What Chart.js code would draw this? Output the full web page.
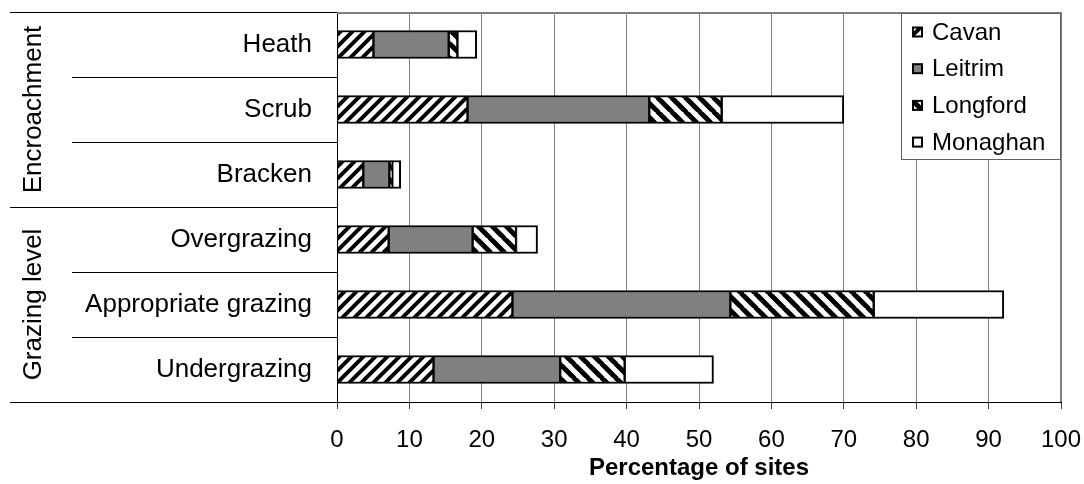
<!DOCTYPE html>
<html>
<head>
<meta charset="utf-8">
<script src="https://cdn.jsdelivr.net/npm/chart.js@4.4.1/dist/chart.umd.min.js"></script>
<style>
  html, body { margin: 0; padding: 0; background: #fff; }
  #wrap { width: 1084px; height: 484px; }
</style>
</head>
<body>
<div id="wrap"><canvas id="chart" width="1084" height="484"></canvas></div>
<script>
// Site-condition categories, listed top to bottom
const categories = ['Heath', 'Scrub', 'Bracken', 'Overgrazing', 'Appropriate grazing', 'Undergrazing'];
// Groups of categories shown as rotated labels on the far left
const groupNames = ['Encroachment', 'Grazing level'];
const groupSpans = [[0, 2], [3, 5]];

// Percentage of sites per county (stacked segments)
const cavan    = [5.1, 18.1, 3.7, 7.2, 24.3, 13.4];
const leitrim  = [10.4, 25.1, 3.6, 11.6, 30.1, 17.5];
const longford = [1.2, 10.0, 0.4, 6.0, 19.8, 8.9];
const monaghan = [2.6, 16.8, 1.1, 2.9, 17.9, 12.2];

const xTicks = [0, 10, 20, 30, 40, 50, 60, 70, 80, 90, 100];
const xTitle = 'Percentage of sites';

const FONT = "'Liberation Sans', Arial, sans-serif";

// Diagonal hatch fill; dir = 1 for "/" stripes, -1 for "\" stripes
function hatch(period, width, dir) {
  const c = document.createElement('canvas');
  c.width = period; c.height = period;
  const g = c.getContext('2d');
  g.fillStyle = '#fff';
  g.fillRect(0, 0, period, period);
  g.strokeStyle = '#000';
  g.lineWidth = width;
  g.beginPath();
  for (const k of [0, period, 2 * period]) {
    if (dir > 0) {
      g.moveTo(k + 1, -1); g.lineTo(k - period - 1, period + 1);
    } else {
      g.moveTo(k - period - 1, -1); g.lineTo(k + 1, period + 1);
    }
  }
  g.stroke();
  return g.createPattern(c, 'repeat');
}

const cavanFill = hatch(12, 4, 1);
const longfordFill = hatch(14, 5, -1);

const barStyle = {
  borderColor: '#000',
  borderWidth: { top: 2, bottom: 2, left: 1, right: 2 },
  borderSkipped: false,
  barThickness: 28
};

// Left-hand category separators, group labels, plot frame and legend
const framePlugin = {
  id: 'frame',
  afterDraw(chart) {
    const { ctx, chartArea: a, scales: { y } } = chart;
    const n = categories.length;
    const step = (y.getPixelForValue(n - 1) - y.getPixelForValue(0)) / (n - 1);
    const edge = i => Math.round(y.getPixelForValue(i) - step / 2) + 0.5;
    ctx.save();
    ctx.lineWidth = 1;
    ctx.strokeStyle = '#000';
    // separators between categories
    for (let i = 0; i <= n; i++) {
      const isGroupEdge = i === 0 || i === n || groupSpans.some(s => s[0] === i);
      const x0 = isGroupEdge ? 10 : 72;
      ctx.beginPath();
      ctx.moveTo(x0, edge(i));
      ctx.lineTo(a.left, edge(i));
      ctx.stroke();
    }
    // rotated group labels
    ctx.fillStyle = '#000';
    ctx.font = '26px ' + FONT;
    ctx.textAlign = 'center';
    ctx.textBaseline = 'middle';
    groupNames.forEach((name, gi) => {
      const [s, e] = groupSpans[gi];
      const cy = (y.getPixelForValue(s) + y.getPixelForValue(e)) / 2;
      ctx.save();
      ctx.translate(34, cy);
      ctx.rotate(-Math.PI / 2);
      ctx.fillText(name, 0, 0);
      ctx.restore();
    });
    // top and right frame of the plot
    ctx.strokeStyle = '#808080';
    ctx.lineWidth = 2;
    ctx.beginPath();
    ctx.moveTo(a.left, a.top + 1);
    ctx.lineTo(a.right, a.top + 1);
    ctx.lineTo(a.right, a.bottom);
    ctx.stroke();
    // bottom axis line extended under the category labels
    ctx.strokeStyle = '#000';
    ctx.lineWidth = 1;
    ctx.beginPath();
    ctx.moveTo(10, Math.round(a.bottom) + 0.5);
    ctx.lineTo(a.right, Math.round(a.bottom) + 0.5);
    ctx.stroke();

    // legend box
    const lx = 901.5, ly = 13.5, lw = 159, lh = 146;
    ctx.fillStyle = '#fff';
    ctx.fillRect(lx, ly, lw, lh);
    ctx.strokeStyle = '#606060';
    ctx.lineWidth = 1;
    ctx.strokeRect(lx, ly, lw, lh);
    ctx.font = '24px ' + FONT;
    ctx.textAlign = 'left';
    ctx.textBaseline = 'middle';
    chart.data.datasets.forEach((ds, i) => {
      const cy = 32 + i * 36.7;
      ctx.fillStyle = ds.backgroundColor;
      ctx.fillRect(913, cy - 4.5, 9, 9);
      ctx.strokeStyle = '#000';
      ctx.lineWidth = 2;
      ctx.strokeRect(913, cy - 4.5, 9, 9);
      ctx.fillStyle = '#000';
      ctx.fillText(ds.label, 932, cy + 1);
    });
    ctx.restore();
  }
};

new Chart(document.getElementById('chart'), {
  type: 'bar',
  data: {
    labels: categories,
    datasets: [
      { label: 'Cavan', data: cavan, backgroundColor: cavanFill, ...barStyle },
      { label: 'Leitrim', data: leitrim, backgroundColor: '#808080', ...barStyle },
      { label: 'Longford', data: longford, backgroundColor: longfordFill, ...barStyle },
      { label: 'Monaghan', data: monaghan, backgroundColor: '#ffffff', ...barStyle }
    ]
  },
  options: {
    indexAxis: 'y',
    responsive: false,
    animation: false,
    devicePixelRatio: 1,
    layout: { padding: { top: 12, right: 23, bottom: 0, left: 0 } },
    plugins: { legend: { display: false }, tooltip: { enabled: false } },
    scales: {
      x: {
        stacked: true,
        min: 0,
        max: 100,
        afterBuildTicks(scale) { scale.ticks = xTicks.map(v => ({ value: v })); },
        afterFit(scale) { scale.height = 82; scale.paddingLeft = 0; scale.paddingRight = 0; },
        grid: { color: '#808080', lineWidth: 1, drawTicks: true, tickLength: 7, tickColor: '#404040' },
        border: { display: true, color: '#000', width: 1 },
        ticks: { color: '#000', font: { family: FONT, size: 24 }, padding: 17, maxRotation: 0 },
        title: {
          display: true, text: xTitle, color: '#000',
          font: { family: FONT, size: 24, weight: 'bold', lineHeight: 1.2 },
          padding: { top: 0, bottom: 1 }
        }
      },
      y: {
        stacked: true,
        afterFit(scale) { scale.width = 337; scale.paddingTop = 0; scale.paddingBottom = 0; },
        grid: { display: false, drawTicks: false, tickLength: 0 },
        border: { display: true, color: '#000', width: 1 },
        ticks: { color: '#000', font: { family: FONT, size: 26 }, padding: 25 }
      }
    }
  },
  plugins: [framePlugin]
});
</script>
</body>
</html>
